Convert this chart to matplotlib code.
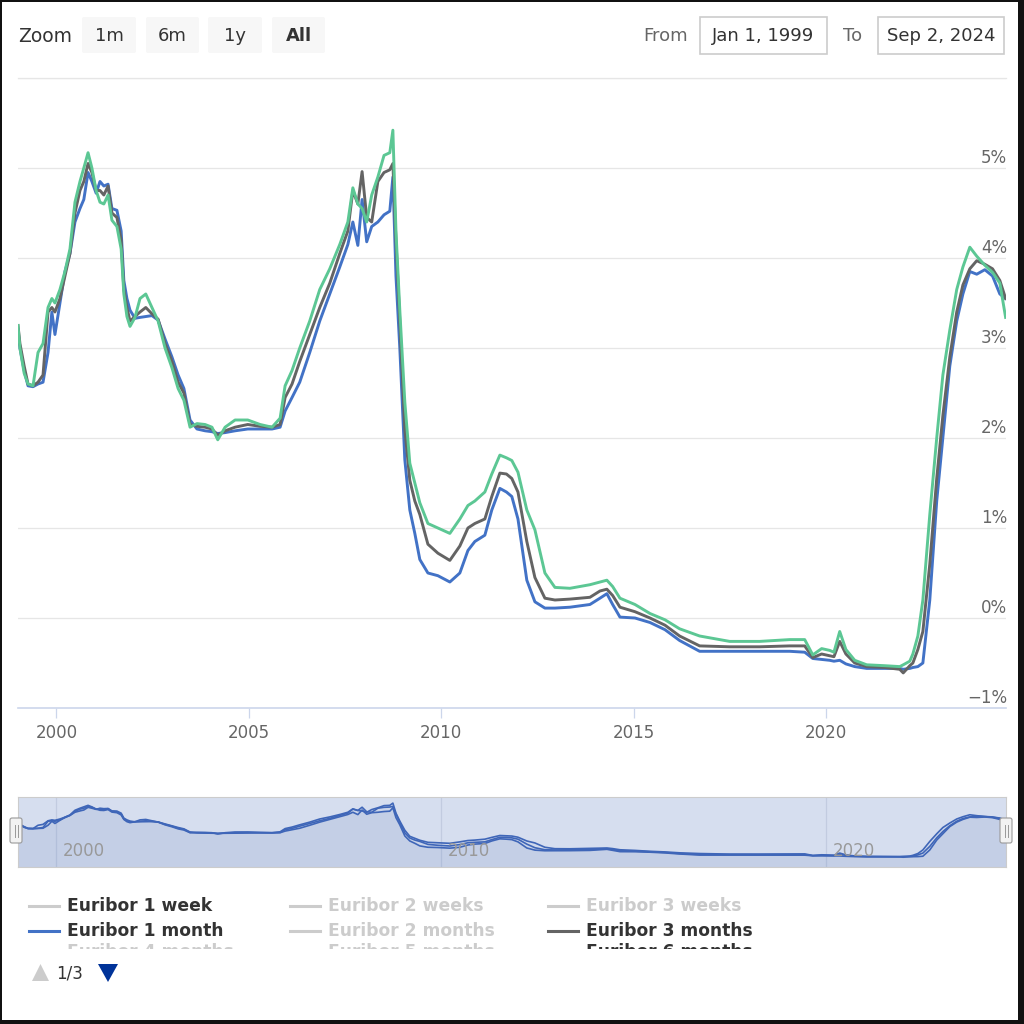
import matplotlib
matplotlib.use('Agg')
import matplotlib.pyplot as plt
import matplotlib.transforms as mtransforms
from matplotlib.patches import Rectangle, FancyBboxPatch, Polygon

# Euribor rates (%), decimal years
dates = [1999.00, 1999.05, 1999.16, 1999.26, 1999.39, 1999.52, 1999.65, 1999.78, 1999.88, 1999.96,
         2000.09, 2000.22, 2000.35, 2000.48, 2000.61, 2000.71, 2000.82, 2000.92, 2001.03, 2001.13,
         2001.23, 2001.34, 2001.44, 2001.57, 2001.68, 2001.75, 2001.83, 2001.91, 2002.04, 2002.17,
         2002.32, 2002.48, 2002.64, 2002.82, 2003.00, 2003.16, 2003.31, 2003.47, 2003.65, 2003.86,
         2004.04, 2004.19, 2004.38, 2004.64, 2004.97, 2005.29, 2005.60, 2005.81, 2005.94, 2006.12,
         2006.32, 2006.58, 2006.84, 2007.10, 2007.36, 2007.57, 2007.70, 2007.83, 2007.94, 2008.06,
         2008.19, 2008.35, 2008.51, 2008.66, 2008.74, 2008.82, 2008.92, 2009.05, 2009.18, 2009.31,
         2009.44, 2009.65, 2009.91, 2010.22, 2010.48, 2010.69, 2010.87, 2011.13, 2011.31, 2011.52,
         2011.69, 2011.83, 2011.99, 2012.22, 2012.43, 2012.69, 2012.95, 2013.34, 2013.86, 2014.12,
         2014.30, 2014.45, 2014.64, 2015.03, 2015.42, 2015.81, 2016.19, 2016.71, 2017.49, 2018.27,
         2019.05, 2019.44, 2019.65, 2019.88, 2020.09, 2020.20, 2020.35, 2020.51, 2020.74, 2021.05,
         2021.52, 2021.91, 2022.00, 2022.17, 2022.25, 2022.38, 2022.51, 2022.69, 2022.87, 2023.03,
         2023.21, 2023.39, 2023.55, 2023.73, 2023.91, 2024.12, 2024.32, 2024.51, 2024.66]

euribor_1m = [3.20, 3.00, 2.75, 2.58, 2.57, 2.60, 2.62, 2.95, 3.40, 3.15,
              3.50, 3.85, 4.05, 4.40, 4.55, 4.65, 4.95, 4.85, 4.72, 4.85,
              4.80, 4.82, 4.55, 4.53, 4.30, 3.75, 3.55, 3.42, 3.33, 3.34,
              3.35, 3.36, 3.31, 3.10, 2.90, 2.70, 2.55, 2.20, 2.10, 2.08,
              2.07, 2.05, 2.06, 2.08, 2.10, 2.10, 2.10, 2.12, 2.30, 2.45,
              2.62, 2.95, 3.30, 3.60, 3.90, 4.15, 4.40, 4.14, 4.65, 4.18,
              4.35, 4.40, 4.48, 4.52, 4.90, 3.80, 3.00, 1.76, 1.20, 0.94,
              0.65, 0.50, 0.47, 0.40, 0.50, 0.75, 0.85, 0.92, 1.20, 1.44,
              1.40, 1.35, 1.10, 0.42, 0.18, 0.11, 0.11, 0.12, 0.15, 0.22,
              0.27, 0.15, 0.01, 0.00, -0.05, -0.13, -0.25, -0.37, -0.37, -0.37,
              -0.37, -0.38, -0.45, -0.46, -0.47, -0.48, -0.47, -0.51, -0.54, -0.56,
              -0.56, -0.56, -0.57, -0.56, -0.55, -0.54, -0.50, 0.20, 1.30, 2.00,
              2.80, 3.30, 3.60, 3.85, 3.82, 3.87, 3.80, 3.60, 3.55]

euribor_3m = [3.25, 3.05, 2.80, 2.60, 2.58, 2.62, 2.70, 3.40, 3.45, 3.40,
              3.55, 3.80, 4.05, 4.50, 4.75, 4.85, 5.05, 4.95, 4.75, 4.75,
              4.70, 4.80, 4.50, 4.45, 4.20, 3.65, 3.45, 3.30, 3.35, 3.40,
              3.45, 3.38, 3.32, 3.05, 2.85, 2.62, 2.50, 2.15, 2.13, 2.12,
              2.10, 2.03, 2.08, 2.12, 2.15, 2.13, 2.12, 2.15, 2.45, 2.60,
              2.85, 3.15, 3.45, 3.72, 4.05, 4.30, 4.75, 4.60, 4.96, 4.45,
              4.40, 4.85, 4.95, 4.98, 5.05, 4.20, 3.30, 2.10, 1.53, 1.30,
              1.15, 0.82, 0.72, 0.64, 0.80, 1.00, 1.05, 1.10, 1.35, 1.61,
              1.60, 1.55, 1.40, 0.85, 0.45, 0.22, 0.20, 0.21, 0.23, 0.30,
              0.32, 0.25, 0.12, 0.07, 0.00, -0.08, -0.20, -0.31, -0.32, -0.32,
              -0.31, -0.31, -0.44, -0.40, -0.42, -0.43, -0.26, -0.40, -0.50, -0.54,
              -0.55, -0.57, -0.61, -0.53, -0.50, -0.35, -0.15, 0.60, 1.55, 2.25,
              2.90, 3.40, 3.70, 3.88, 3.97, 3.93, 3.88, 3.75, 3.55]

euribor_6m = [3.25, 3.00, 2.72, 2.60, 2.58, 2.95, 3.05, 3.45, 3.55, 3.50,
              3.65, 3.85, 4.10, 4.62, 4.85, 5.00, 5.17, 5.00, 4.75, 4.62,
              4.60, 4.70, 4.42, 4.35, 4.10, 3.60, 3.35, 3.24, 3.34, 3.55,
              3.60, 3.45, 3.30, 3.00, 2.78, 2.55, 2.42, 2.12, 2.16, 2.15,
              2.12, 1.98, 2.12, 2.20, 2.20, 2.15, 2.12, 2.22, 2.58, 2.75,
              3.00, 3.30, 3.65, 3.88, 4.15, 4.40, 4.78, 4.60, 4.55, 4.40,
              4.70, 4.90, 5.14, 5.17, 5.42, 4.30, 3.42, 2.40, 1.72, 1.50,
              1.28, 1.05, 1.00, 0.94, 1.10, 1.25, 1.30, 1.40, 1.60, 1.81,
              1.78, 1.75, 1.62, 1.20, 0.98, 0.50, 0.34, 0.33, 0.37, 0.40,
              0.42, 0.35, 0.22, 0.15, 0.05, -0.02, -0.12, -0.20, -0.26, -0.26,
              -0.24, -0.24, -0.41, -0.34, -0.36, -0.38, -0.15, -0.35, -0.47, -0.52,
              -0.53, -0.54, -0.52, -0.48, -0.40, -0.20, 0.20, 1.15, 2.00, 2.70,
              3.20, 3.65, 3.90, 4.12, 4.02, 3.92, 3.84, 3.72, 3.34]

year_ticks = [2000, 2005, 2010, 2015, 2020]
nav_ticks = [2000, 2010, 2020]
pct_ticks = [-1, 0, 1, 2, 3, 4, 5, 6]

legend_rows = [["Euribor 1 week", "Euribor 2 weeks", "Euribor 3 weeks"],
               ["Euribor 1 month", "Euribor 2 months", "Euribor 3 months"],
               ["Euribor 4 months", "Euribor 5 months", "Euribor 6 months"]]

BLUE = '#4272c6'
GRAY = '#646464'
GREEN = '#5cc794'
OFF = '#cccccc'
NAV = '#3f66b8'

legend_styles = [[(OFF, '#333333'), (OFF, OFF), (OFF, OFF)],
                 [(BLUE, '#333333'), (OFF, OFF), (GRAY, '#333333')],
                 [(OFF, OFF), (OFF, OFF), (GREEN, '#333333')]]

plt.rcParams['font.family'] = ['DejaVu Sans']

W = H = 1024
fig = plt.figure(figsize=(10.24, 10.24), dpi=100)
fig.patch.set_facecolor('white')


def fx(x):
    return x / W


def fy(y):
    return 1 - y / H


def box(x0, y0, x1, y1):
    return [fx(x0), fy(y1), fx(x1) - fx(x0), fy(y0) - fy(y1)]


# --- main chart ---
ax = fig.add_axes(box(18, 78, 1006, 708))
ax.plot(dates, euribor_1m, color=BLUE, lw=2.1, zorder=3)
ax.plot(dates, euribor_3m, color=GRAY, lw=2.1, zorder=4)
ax.plot(dates, euribor_6m, color=GREEN, lw=2.1, zorder=5)
ax.set_xlim(1999.0, 2024.67)
ax.set_ylim(-1, 6)
for v in pct_ticks[1:]:
    ax.axhline(v, color='#e6e6e6', lw=0.9, zorder=1)
for s in ['top', 'right', 'left']:
    ax.spines[s].set_visible(False)
ax.spines['bottom'].set_color('#ccd6eb')
ax.spines['bottom'].set_linewidth(1.2)
ax.set_yticks([])
ax.set_xticks(year_ticks)
ax.set_xticklabels([str(y) for y in year_ticks])
ax.tick_params(axis='x', direction='out', length=7.5, width=0.9, color='#ccd6eb',
               labelcolor='#666666', labelsize=12, pad=4)

ytrans = mtransforms.offset_copy(ax.get_yaxis_transform(), fig=fig, x=1, y=1, units='dots')
for v in pct_ticks[:-1]:
    lab = f'{v}%'.replace('-', '\u2212')
    ax.text(1.0, v, lab, transform=ytrans, ha='right', va='bottom',
            fontsize=12, color='#666666')

# --- navigator ---
nav = fig.add_axes(box(18, 797, 1006, 867))
nav.set_facecolor('#d6deef')
for t in nav_ticks:
    nav.axvline(t, color='#c2cbe0', lw=0.9, zorder=1)
base = -1.7
for vals in (euribor_1m, euribor_3m, euribor_6m):
    nav.fill_between(dates, vals, base, color='#335cad', alpha=0.035, lw=0, zorder=2)
for vals in (euribor_1m, euribor_3m, euribor_6m):
    nav.plot(dates, vals, color=NAV, lw=1.2, zorder=3)
nav.set_xlim(1999.0, 2024.67)
nav.set_ylim(base, 6.1)
nav.set_xticks([])
nav.set_yticks([])
for s in nav.spines.values():
    s.set_color('#cccccc')
    s.set_linewidth(0.8)
for t in nav_ticks:
    nav.annotate(str(t), (t, 0), xycoords=('data', 'axes fraction'), xytext=(6, 7),
                 textcoords='offset pixels', ha='left', va='bottom', fontsize=12, color='#999999')

# navigator handles
for hx in (16, 1006):
    fig.add_artist(FancyBboxPatch((fx(hx - 6), fy(843)), fx(12), fx(25),
                                  boxstyle='round,pad=0,rounding_size=0.002',
                                  facecolor='#f2f2f2', edgecolor='#999999', lw=0.8,
                                  transform=fig.transFigure, zorder=6))
    for dx in (-1.5, 1.5):
        fig.add_artist(plt.Line2D([fx(hx + dx), fx(hx + dx)], [fy(825), fy(837)],
                                  color='#999999', lw=0.7, transform=fig.transFigure, zorder=7))

# --- range selector ---
fig.text(fx(18), fy(36), 'Zoom', ha='left', va='center', fontsize=13.5, color='#333333')
buttons = [('1m', 82, 136), ('6m', 146, 199), ('1y', 208, 262), ('All', 272, 325)]
for lab, x0, x1 in buttons:
    fig.add_artist(FancyBboxPatch((fx(x0), fy(53)), fx(x1 - x0), fx(36),
                                  boxstyle='round,pad=0,rounding_size=0.002',
                                  facecolor='#f7f7f7', edgecolor='none',
                                  transform=fig.transFigure))
    fig.text(fx((x0 + x1) / 2), fy(36), lab, ha='center', va='center', fontsize=13,
             color='#333333', fontweight='bold' if lab == 'All' else 'normal')

fig.text(fx(688), fy(36), 'From', ha='right', va='center', fontsize=13, color='#666666')
fig.text(fx(862), fy(36), 'To', ha='right', va='center', fontsize=13, color='#666666')
for lab, x0, x1 in [('Jan 1, 1999', 700, 827), ('Sep 2, 2024', 878, 1004)]:
    fig.add_artist(Rectangle((fx(x0), fy(54)), fx(x1 - x0), fx(37), facecolor='white',
                             edgecolor='#cccccc', lw=1.2, transform=fig.transFigure))
    fig.text(fx((x0 + x1) / 2), fy(36), lab, ha='center', va='center', fontsize=13,
             color='#333333')

# top grid line of the plot area
fig.add_artist(plt.Line2D([fx(18), fx(1006)], [fy(78), fy(78)], color='#e6e6e6', lw=0.9,
                          transform=fig.transFigure))

# --- legend ---
col_x = [29, 290, 548]
row_y = [906, 931, 952]
for r, row in enumerate(legend_rows):
    for c, name in enumerate(row):
        sym, txt = legend_styles[r][c]
        x0 = col_x[c]
        fig.add_artist(plt.Line2D([fx(x0), fx(x0 + 30)], [fy(row_y[r]), fy(row_y[r])],
                                  color=sym, lw=2.2, transform=fig.transFigure))
        fig.text(fx(x0 + 38), fy(row_y[r]), name, ha='left', va='center', fontsize=12.3,
                 fontweight='bold', color=txt)
# legend clipping window (third row is cut off, as in the paged legend)
fig.add_artist(Rectangle((fx(10), fy(963)), fx(900), fx(14), facecolor='white',
                         edgecolor='none', transform=fig.transFigure, zorder=5))

# pagination
fig.add_artist(Polygon([[fx(32), fy(981)], [fx(49), fy(981)], [fx(40.5), fy(964)]],
                       closed=True, facecolor='#cccccc', edgecolor='none',
                       transform=fig.transFigure, zorder=6))
fig.text(fx(56), fy(973), '1/3', ha='left', va='center', fontsize=12, color='#333333', zorder=7)
fig.add_artist(Polygon([[fx(98), fy(964)], [fx(118), fy(964)], [fx(108), fy(982)]],
                       closed=True, facecolor='#003399', edgecolor='none',
                       transform=fig.transFigure, zorder=6))

# outer frame
for rx0, ry0, rx1, ry1 in [(0, 0, 2, 1024), (0, 0, 1024, 2), (1018, 0, 1024, 1024), (0, 1020, 1024, 1024)]:
    fig.add_artist(Rectangle((fx(rx0), fy(ry1)), fx(rx1 - rx0), fx(ry1 - ry0),
                             facecolor='#111111', edgecolor='none',
                             transform=fig.transFigure, zorder=10))

fig.savefig('out.png', dpi=100)
